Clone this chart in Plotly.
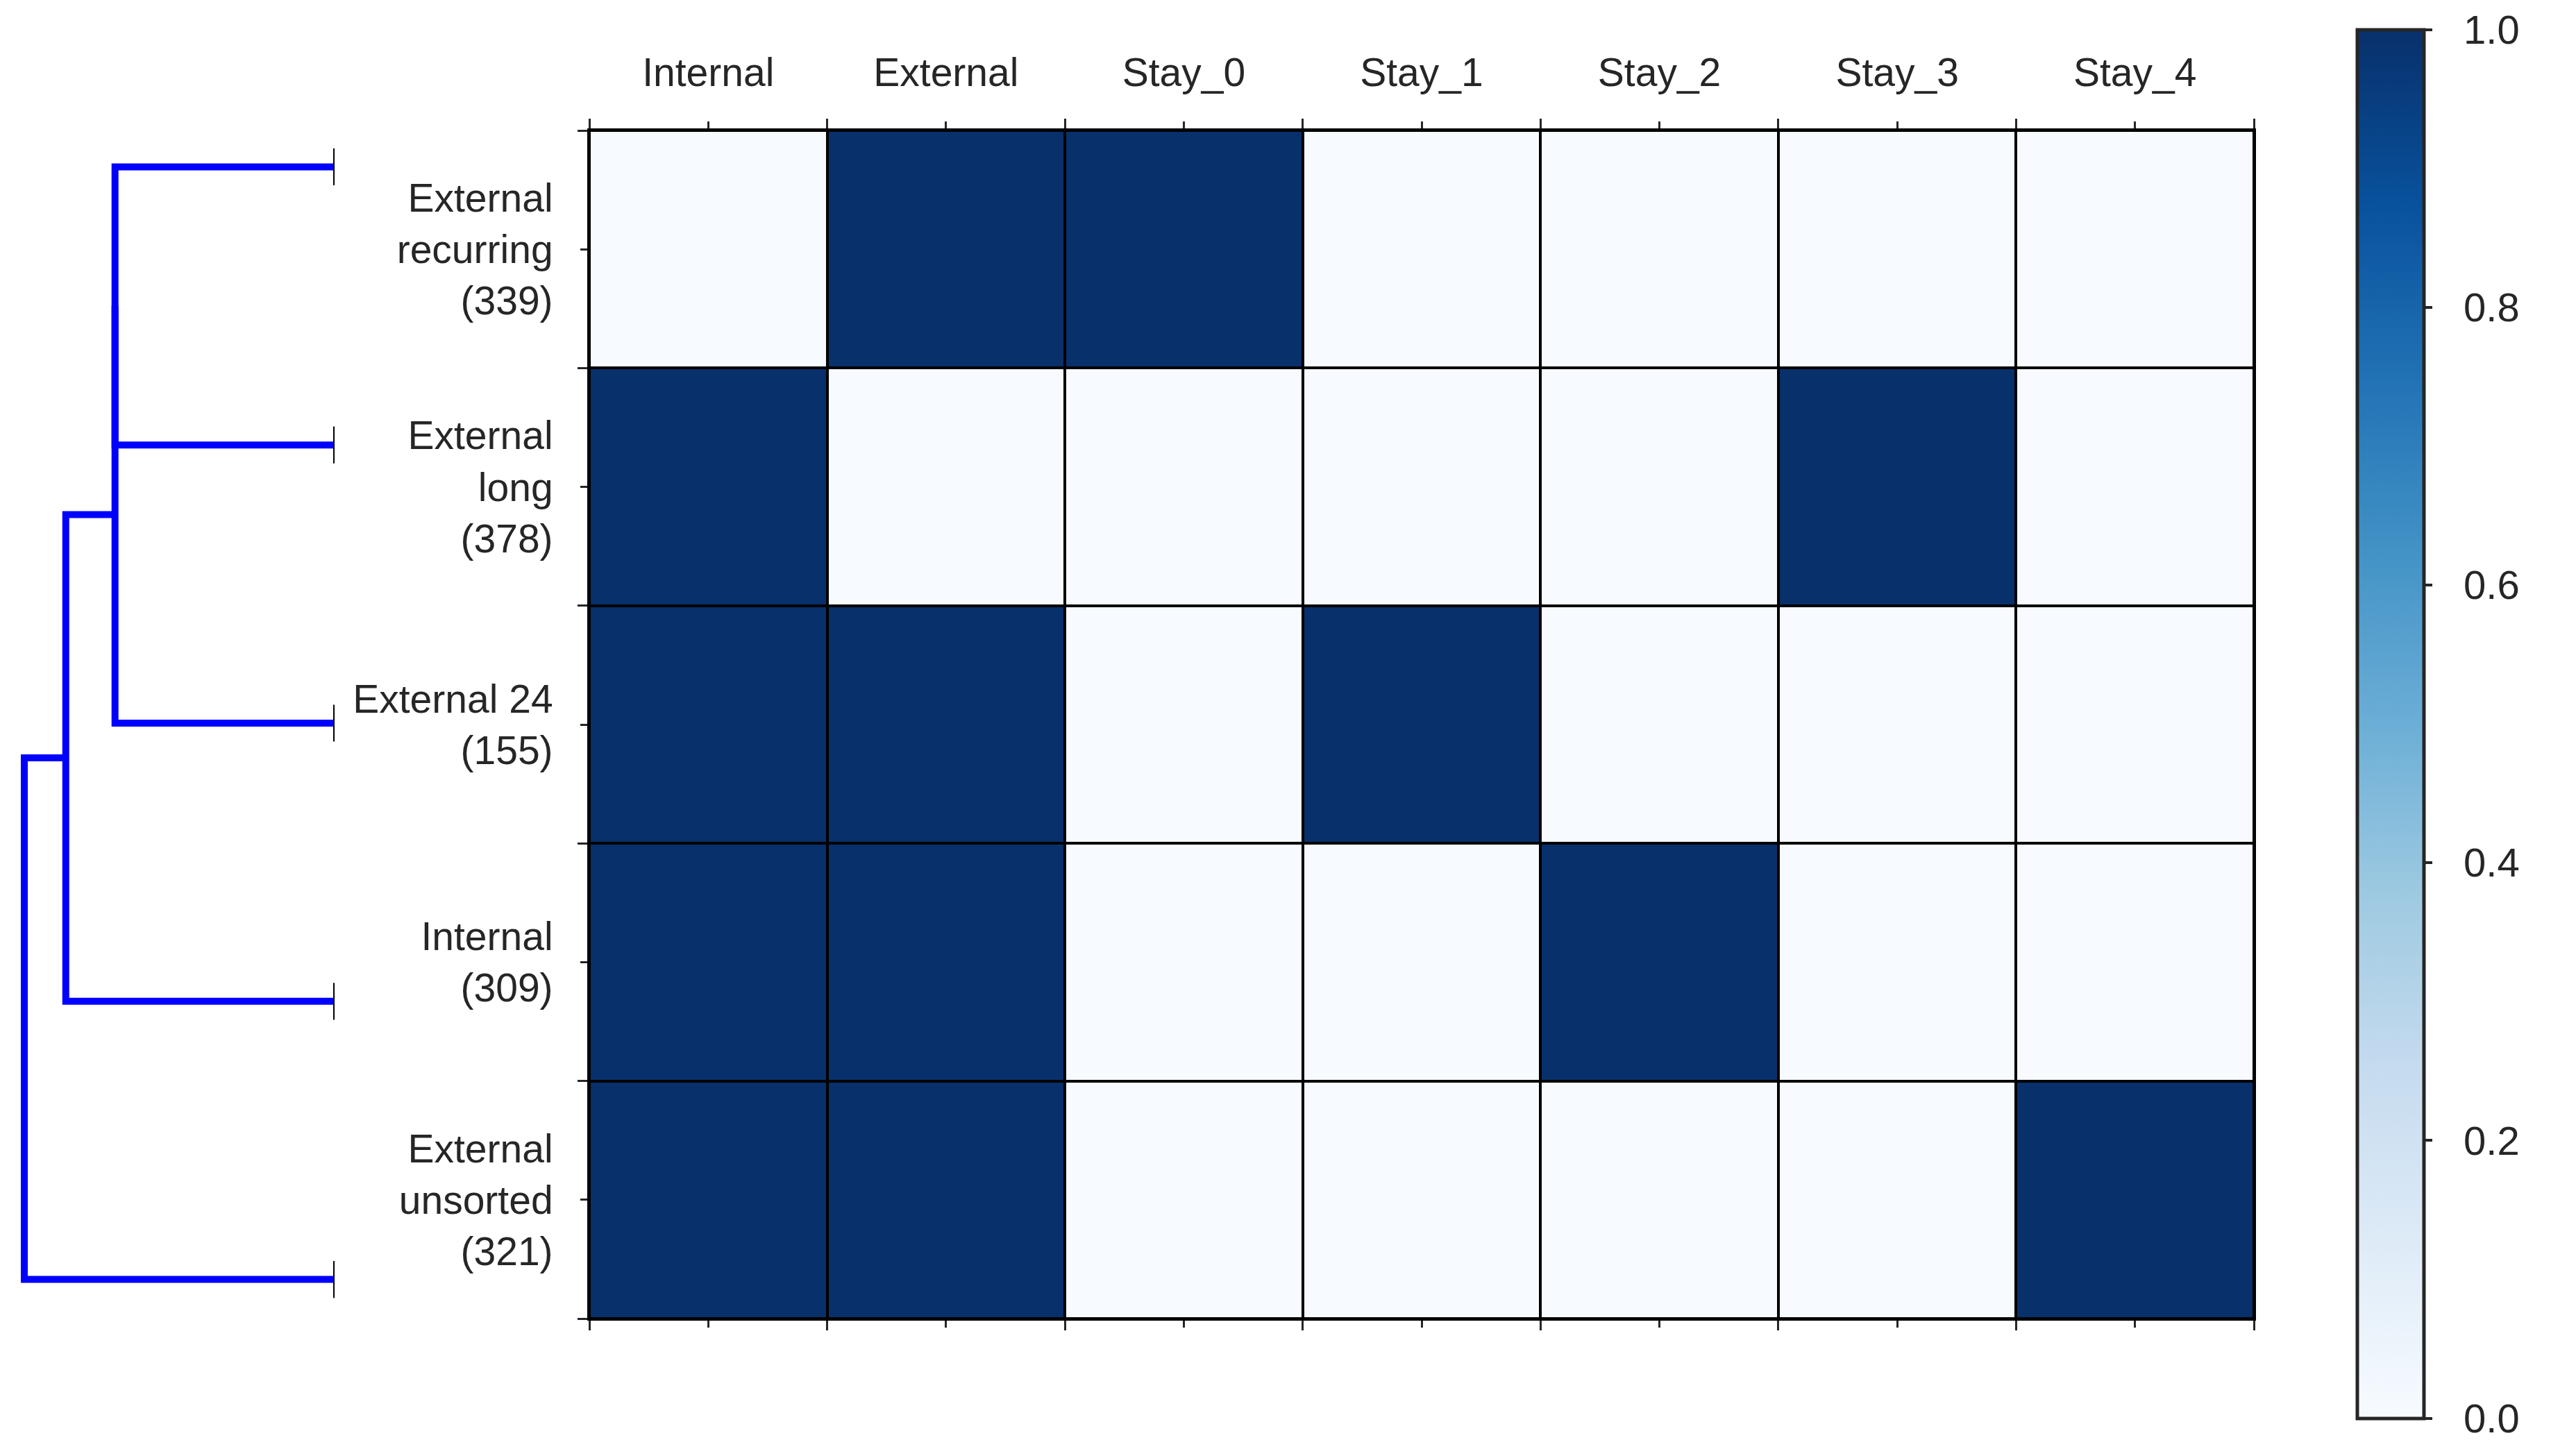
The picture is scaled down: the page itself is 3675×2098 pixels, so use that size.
import plotly.graph_objects as go
import plotly.express as px

# heatmap data
col_labels = ["Internal", "External", "Stay_0", "Stay_1", "Stay_2", "Stay_3", "Stay_4"]
row_labels = [
    "External<br>recurring<br>(339)",
    "External<br>long<br>(378)",
    "External 24<br>(155)",
    "Internal<br>(309)",
    "External<br>unsorted<br>(321)",
]
z_recurring = [0, 1, 1, 0, 0, 0, 0]
z_long = [1, 0, 0, 0, 0, 1, 0]
z_24 = [1, 1, 0, 1, 0, 0, 0]
z_internal = [1, 1, 0, 0, 1, 0, 0]
z_unsorted = [1, 1, 0, 0, 0, 0, 1]

# dendrogram merges: (cluster a, cluster b, distance), new clusters numbered from 5
merge_a = [0, 5, 6, 7]
merge_b = [1, 2, 3, 4]
merge_dist = [1.414, 1.414, 1.732, 2.0]

cbar_ticks = [0.0, 0.2, 0.4, 0.6, 0.8, 1.0]

W, H = 3675, 2098
TXT = "#262626"
OFF = 8  # page body margin in the html


def fx(p):
    # page pixel -> paper x
    return (p - OFF) / W


def fy(p):
    # page pixel (from top) -> paper y
    return 1 - (p - OFF) / H


z = [z_recurring, z_long, z_24, z_internal, z_unsorted]
n_rows, n_cols = len(row_labels), len(col_labels)

fig = go.Figure()

# transparent copy of the heatmap, only used for the colorbar labels
# (plotly has no standoff for colorbar tick labels)
fig.add_trace(go.Heatmap(
    z=z,
    x=list(range(n_cols)),
    y=list(range(n_rows)),
    zmin=0, zmax=1,
    colorscale=[[0, "rgba(0,0,0,0)"], [1, "rgba(0,0,0,0)"]],
    hoverinfo="skip",
    colorbar=dict(
        x=fx(3536), xanchor="left", xpad=0,
        y=fy(1043), yanchor="middle", ypad=0,
        len=2001, lenmode="pixels",
        thickness=1, outlinewidth=0,
        tickvals=cbar_ticks, tickformat=".1f",
        ticks="",
        tickfont=dict(size=58, color=TXT),
    ),
))

fig.add_trace(go.Heatmap(
    z=z,
    x=list(range(n_cols)),
    y=list(range(n_rows)),
    zmin=0, zmax=1,
    colorscale=px.colors.sequential.Blues,
    xgap=4, ygap=4,
    colorbar=dict(
        x=fx(3396), xanchor="left", xpad=0,
        y=fy(1043), yanchor="middle", ypad=0,
        len=2001, lenmode="pixels",
        thickness=96,
        outlinewidth=5, outlinecolor=TXT,
        tickvals=cbar_ticks, showticklabels=False,
        ticks="outside", ticklen=10, tickwidth=4, tickcolor=TXT,
    ),
))

# dendrogram (leaves at 5, 15, 25, ...)
pos = {i: 10 * i + 5 for i in range(n_rows)}
hgt = {i: 0.0 for i in range(n_rows)}
for k, (a, b, d) in enumerate(zip(merge_a, merge_b, merge_dist)):
    fig.add_trace(go.Scatter(
        x=[hgt[a], d, d, hgt[b]],
        y=[pos[a], pos[a], pos[b], pos[b]],
        mode="lines", line=dict(color="#0000ff", width=10),
        xaxis="x2", yaxis="y2", showlegend=False, hoverinfo="skip",
    ))
    new = n_rows + k
    pos[new] = (pos[a] + pos[b]) / 2
    hgt[new] = d

fig.add_trace(go.Scatter(
    x=[0.0] * n_rows, y=[pos[i] for i in range(n_rows)],
    mode="markers",
    marker=dict(symbol="line-ns", size=38, line=dict(color="black", width=2)),
    xaxis="x2", yaxis="y2", showlegend=False, hoverinfo="skip",
    cliponaxis=False,
))

bounds_x = [i - 0.5 for i in range(n_cols + 1)]
bounds_y = [i - 0.5 for i in range(n_rows + 1)]

# a little room around the dendrogram so the end lines are not clipped
dpad = 0.05
dend_px = (481 - 35) / merge_dist[-1]

fig.update_layout(
    width=W, height=H, autosize=False,
    margin=dict(l=0, r=0, t=0, b=0),
    paper_bgcolor="white",
    plot_bgcolor="black",
    font=dict(family="Liberation Sans, Arial, sans-serif", color=TXT, size=57),
    xaxis=dict(
        domain=[fx(849), fx(3247)],
        range=[-0.5, n_cols - 0.5],
        side="top",
        tickvals=list(range(n_cols)), ticktext=col_labels,
        ticks="outside", ticklen=10, tickwidth=3, tickcolor=TXT,
        minor=dict(tickvals=bounds_x, ticks="outside", ticklen=14, tickwidth=3, tickcolor=TXT),
        showline=True, linecolor="black", linewidth=3, mirror="ticks",
        showgrid=False, zeroline=False,
        tickfont=dict(size=57, color=TXT),
        ticklabelstandoff=28,
        fixedrange=True,
    ),
    yaxis=dict(
        domain=[fy(1900), fy(188)],
        range=[n_rows - 0.5, -0.5],
        tickvals=list(range(n_rows)), ticktext=row_labels,
        ticks="outside", ticklen=10, tickwidth=3, tickcolor=TXT,
        minor=dict(tickvals=bounds_y, ticks="outside", ticklen=14, tickwidth=3, tickcolor=TXT),
        showline=True, linecolor="black", linewidth=3, mirror=True,
        showgrid=False, zeroline=False,
        tickfont=dict(size=57, color=TXT),
        ticklabelstandoff=28,
        fixedrange=True,
    ),
    xaxis2=dict(
        domain=[fx(35 - dpad * dend_px), fx(481 + dpad * dend_px)], anchor="y2",
        range=[merge_dist[-1] + dpad, -dpad],
        visible=False, fixedrange=True,
    ),
    yaxis2=dict(
        domain=[fy(2044), fy(40)], anchor="x2",
        range=[10 * n_rows, 0],
        visible=False, fixedrange=True,
    ),
    shapes=[dict(
        type="rect", xref="x2 domain", yref="y2 domain",
        x0=-0.1, x1=1.1, y0=-0.05, y1=1.05,
        fillcolor="white", line=dict(width=0), layer="below",
    )],
)

fig.write_html("out.html")
